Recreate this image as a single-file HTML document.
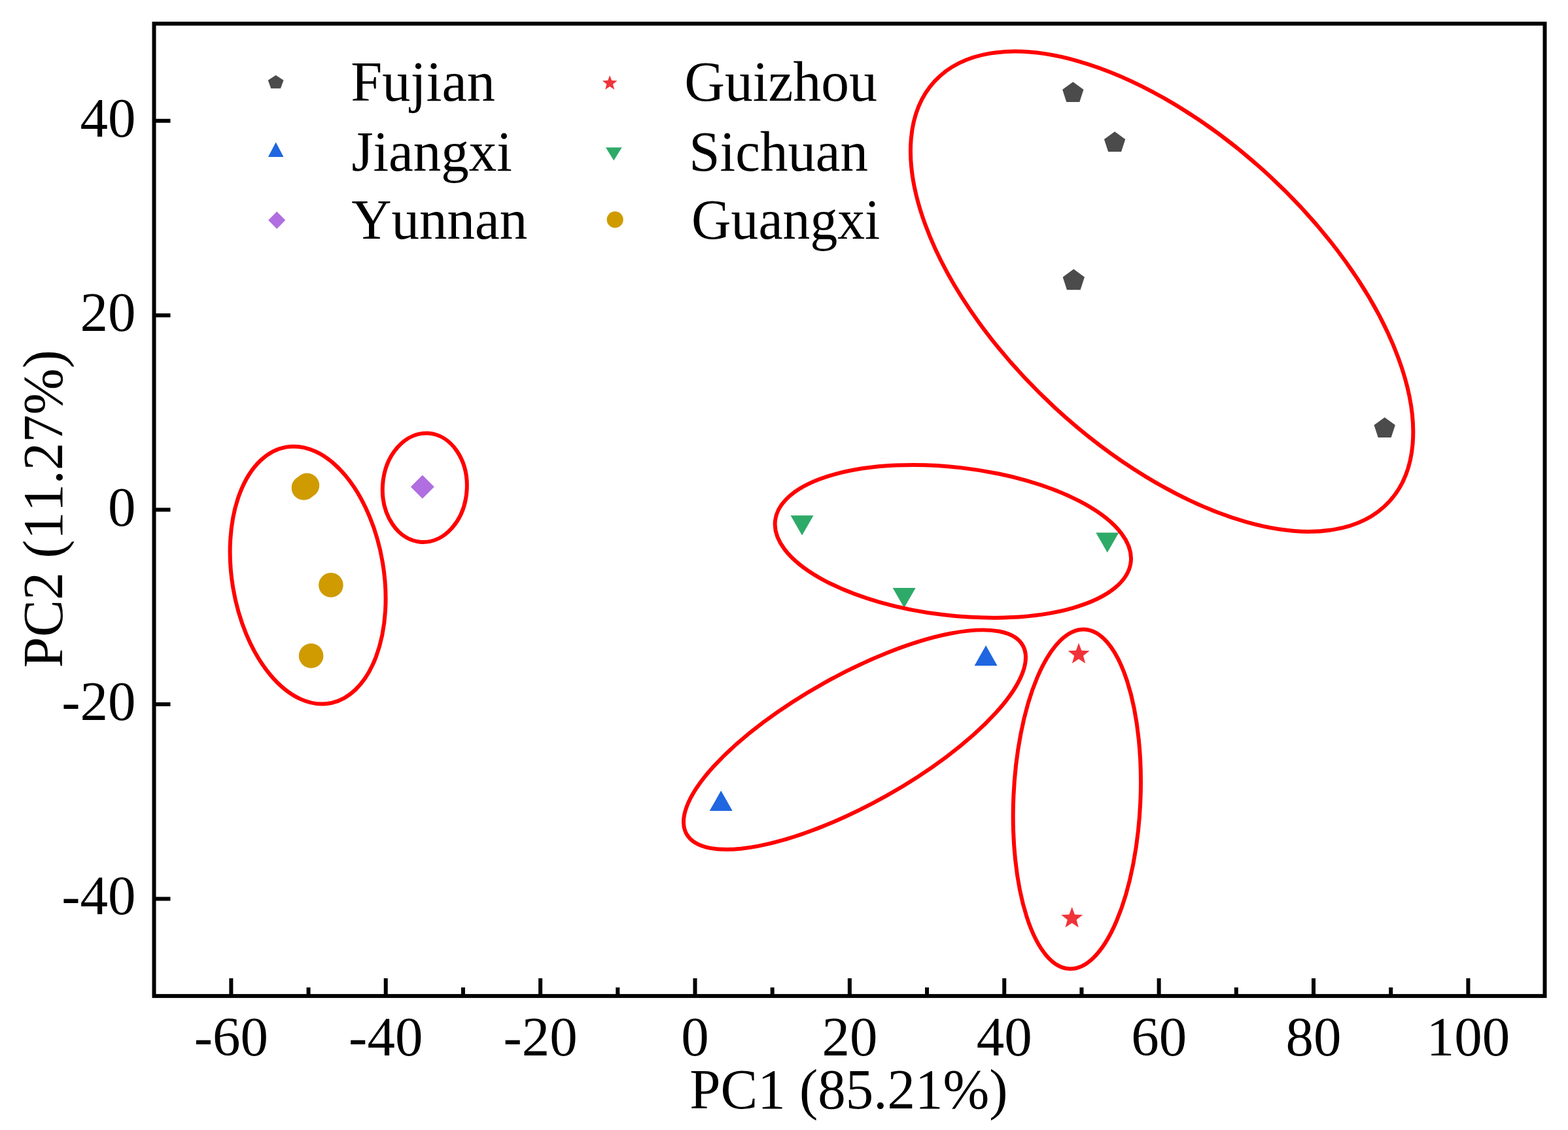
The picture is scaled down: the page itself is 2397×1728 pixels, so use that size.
<!DOCTYPE html>
<html><head><meta charset="utf-8"><title>PCA plot</title>
<style>
html,body{margin:0;padding:0;background:#fff;}
svg{display:block;}
text{font-family:"Liberation Serif","Times New Roman",serif;font-size:85px;fill:#000;font-kerning:none;}
</style></head><body>
<svg width="2397" height="1728" viewBox="0 0 2397 1728">
<rect width="2397" height="1728" fill="#fff"/>
<polygon points="1640.30,125.30 1656.47,137.05 1650.29,156.05 1630.31,156.05 1624.13,137.05" fill="#4b4b4b"/>
<polygon points="1704.10,201.30 1720.27,213.05 1714.09,232.05 1694.11,232.05 1687.93,213.05" fill="#4b4b4b"/>
<polygon points="1641.30,411.60 1657.94,423.69 1651.59,443.26 1631.01,443.26 1624.66,423.69" fill="#4b4b4b"/>
<polygon points="2116.70,638.20 2132.87,649.95 2126.69,668.95 2106.71,668.95 2100.53,649.95" fill="#4b4b4b"/>
<polygon points="1507.10,987.10 1524.60,1018.10 1489.60,1018.10" fill="#1f66e0"/>
<polygon points="1102.20,1208.90 1119.70,1239.90 1084.70,1239.90" fill="#1f66e0"/>
<polygon points="1208.60,788.30 1243.60,788.30 1226.10,818.80" fill="#2eaa68"/>
<polygon points="1364.70,898.90 1399.70,898.90 1382.20,929.40" fill="#2eaa68"/>
<polygon points="1675.30,814.40 1710.30,814.40 1692.80,844.90" fill="#2eaa68"/>
<polygon points="1649.10,983.30 1653.37,994.72 1665.55,995.25 1656.01,1002.85 1659.27,1014.60 1649.10,1007.87 1638.93,1014.60 1642.19,1002.85 1632.65,995.25 1644.83,994.72" fill="#f03439"/>
<polygon points="1638.70,1387.00 1642.97,1398.42 1655.15,1398.95 1645.61,1406.55 1648.87,1418.30 1638.70,1411.57 1628.53,1418.30 1631.79,1406.55 1622.25,1398.95 1634.43,1398.42" fill="#f03439"/>
<circle cx="464.40" cy="746.00" r="18.80" fill="#cf9b00"/>
<circle cx="469.40" cy="742.30" r="18.80" fill="#cf9b00"/>
<circle cx="505.90" cy="894.70" r="18.80" fill="#cf9b00"/>
<circle cx="475.60" cy="1002.90" r="18.80" fill="#cf9b00"/>
<polygon points="645.80,726.50 663.80,744.50 645.80,762.50 627.80,744.50" fill="#b06ee0"/>
<ellipse cx="1776.15" cy="445.75" rx="473.28" ry="241.47" transform="rotate(42.78 1776.15 445.75)" fill="none" stroke="#ff0000" stroke-width="6"/>
<ellipse cx="1456.85" cy="827.85" rx="273.67" ry="113.25" transform="rotate(6.64 1456.85 827.85)" fill="none" stroke="#ff0000" stroke-width="6"/>
<ellipse cx="1306.50" cy="1131.20" rx="294.67" ry="98.52" transform="rotate(-29.28 1306.50 1131.20)" fill="none" stroke="#ff0000" stroke-width="6"/>
<ellipse cx="1646.35" cy="1221.95" rx="259.77" ry="97.07" transform="rotate(-87.47 1646.35 1221.95)" fill="none" stroke="#ff0000" stroke-width="6"/>
<ellipse cx="470.60" cy="879.60" rx="198.71" ry="115.96" transform="rotate(80.47 470.60 879.60)" fill="none" stroke="#ff0000" stroke-width="6"/>
<ellipse cx="649.30" cy="745.75" rx="83.32" ry="64.41" transform="rotate(-86.21 649.30 745.75)" fill="none" stroke="#ff0000" stroke-width="6"/>
<path d="M353.36 1523.10V1496.10M589.74 1523.10V1496.10M826.12 1523.10V1496.10M1062.50 1523.10V1496.10M1298.88 1523.10V1496.10M1535.26 1523.10V1496.10M1771.64 1523.10V1496.10M2008.02 1523.10V1496.10M2244.40 1523.10V1496.10M471.55 1523.10V1510.10M707.93 1523.10V1510.10M944.31 1523.10V1510.10M1180.69 1523.10V1510.10M1417.07 1523.10V1510.10M1653.45 1523.10V1510.10M1889.83 1523.10V1510.10M2126.21 1523.10V1510.10M235.50 1374.40H260.50M235.50 1077.00H260.50M235.50 779.60H260.50M235.50 482.20H260.50M235.50 184.80H260.50" stroke="#000" stroke-width="6" fill="none"/>
<rect x="235.5" y="36.2" width="2126.00" height="1486.90" fill="none" stroke="#000" stroke-width="6" stroke-linejoin="miter" stroke-linecap="square"/>
<polygon points="421.60,114.95 433.49,122.72 428.95,135.30 414.25,135.30 409.71,122.72" fill="#4b4b4b"/>
<polygon points="421.70,217.60 433.50,240.00 409.90,240.00" fill="#1f66e0"/>
<polygon points="423.20,323.60 436.20,336.80 423.20,350.00 410.20,336.80" fill="#b06ee0"/>
<polygon points="932.20,115.20 935.16,123.12 943.61,123.49 936.99,128.76 939.25,136.91 932.20,132.24 925.15,136.91 927.41,128.76 920.79,123.49 929.24,123.12" fill="#f03439"/>
<polygon points="925.95,225.50 950.65,225.50 938.30,245.50" fill="#2eaa68"/>
<circle cx="940.20" cy="335.80" r="12.60" fill="#cf9b00"/>
<text x="353.36" y="1614" text-anchor="middle">-60</text>
<text x="589.74" y="1614" text-anchor="middle">-40</text>
<text x="826.12" y="1614" text-anchor="middle">-20</text>
<text x="1062.50" y="1614" text-anchor="middle">0</text>
<text x="1298.88" y="1614" text-anchor="middle">20</text>
<text x="1535.26" y="1614" text-anchor="middle">40</text>
<text x="1771.64" y="1614" text-anchor="middle">60</text>
<text x="2008.02" y="1614" text-anchor="middle">80</text>
<text x="2244.40" y="1614" text-anchor="middle">100</text>
<text x="207.5" y="1398.40" text-anchor="end">-40</text>
<text x="207.5" y="1101.00" text-anchor="end">-20</text>
<text x="207.5" y="803.60" text-anchor="end">0</text>
<text x="207.5" y="506.20" text-anchor="end">20</text>
<text x="207.5" y="208.80" text-anchor="end">40</text>
<text transform="translate(1297.4,1695.3) scale(1,1.03)" text-anchor="middle">PC1 (85.21%)</text>
<text transform="translate(94.9,778.2) rotate(-90) scale(1,1.03)" text-anchor="middle">PC2 (11.27%)</text>
<text transform="translate(536.3,154.2) scale(1.016,1.03)">Fujian</text>
<text transform="translate(537.4,261.2) scale(1,1.03)">Jiangxi</text>
<text transform="translate(537.2,365.0) scale(1,1.03)">Yunnan</text>
<text transform="translate(1046.2,154.2) scale(1.007,1.03)">Guizhou</text>
<text transform="translate(1053.3,260.8) scale(1,1.03)">Sichuan</text>
<text transform="translate(1057.1,365.0) scale(0.985,1.03)">Guangxi</text>
</svg>
</body></html>
